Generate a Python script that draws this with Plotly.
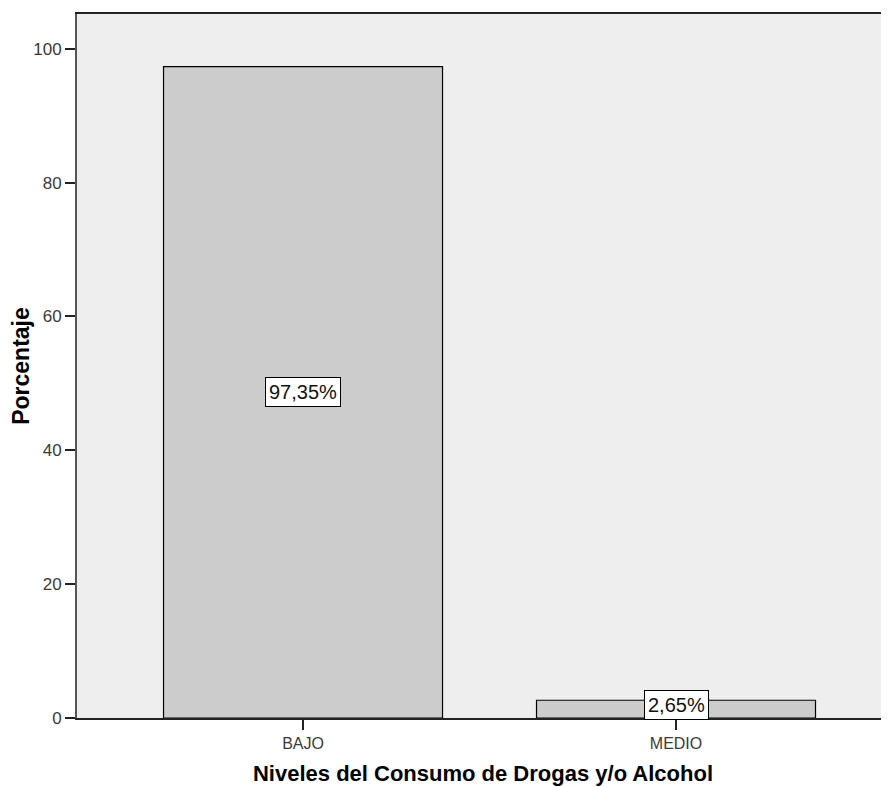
import plotly.graph_objects as go

categories = ["BAJO", "MEDIO"]
percentages = [97.35, 2.65]
labels = ["97,35%", "2,65%"]
y_ticks = [0, 20, 40, 60, 80, 100]

FONT = "Arial, Liberation Sans, sans-serif"

fig = go.Figure()
fig.add_trace(go.Bar(
    x=[0, 1],
    y=percentages,
    width=0.748,
    marker=dict(color="#cccccc", line=dict(color="#000000", width=1.2)),
    hoverinfo="skip",
))

annotations = []
for i, (v, t) in enumerate(zip(percentages, labels)):
    small = v / 2 < 2.2
    annotations.append(dict(
        x=i, y=0 if small else v / 2, xref="x", yref="y",
        text=t, showarrow=False,
        yanchor="bottom" if small else "middle",
        yshift=-2 if small else 0,
        font=dict(family=FONT, size=20, color="#111111"),
        bgcolor="#ffffff", bordercolor="#000000", borderwidth=1, borderpad=3,
    ))

# page body has an 8px margin, so offsets are compensated
fig.update_layout(
    width=881, height=779,
    margin=dict(l=69, r=0, t=6, b=69),
    paper_bgcolor="#ffffff",
    plot_bgcolor="#eeeeee",
    showlegend=False,
    annotations=annotations,
    font=dict(family=FONT, color="#333333"),
    xaxis=dict(
        range=[-0.606, 1.571],
        tickmode="array", tickvals=[0, 1], ticktext=categories,
        ticks="outside", ticklen=10, tickwidth=1.5, tickcolor="#222222",
        tickfont=dict(family=FONT, size=16, color="#3a3a3a"),
        showline=True, linecolor="#222222", linewidth=2, mirror=True,
        showgrid=False, zeroline=False,
        title=dict(text="<b>Niveles del Consumo de Drogas y/o Alcohol</b>",
                   font=dict(family=FONT, size=22, color="#000000"), standoff=14),
    ),
    yaxis=dict(
        range=[0, 105.2],
        tickmode="array", tickvals=y_ticks,
        ticks="outside", ticklen=10, tickwidth=2, tickcolor="#222222",
        tickfont=dict(family=FONT, size=17, color="#3a3a3a"),
        showline=True, linecolor="#555555", linewidth=2,
        showgrid=False, zeroline=False,
        title=dict(text="<b>Porcentaje</b>",
                   font=dict(family=FONT, size=23, color="#000000"), standoff=8),
    ),
)

fig.write_html("out.html")
